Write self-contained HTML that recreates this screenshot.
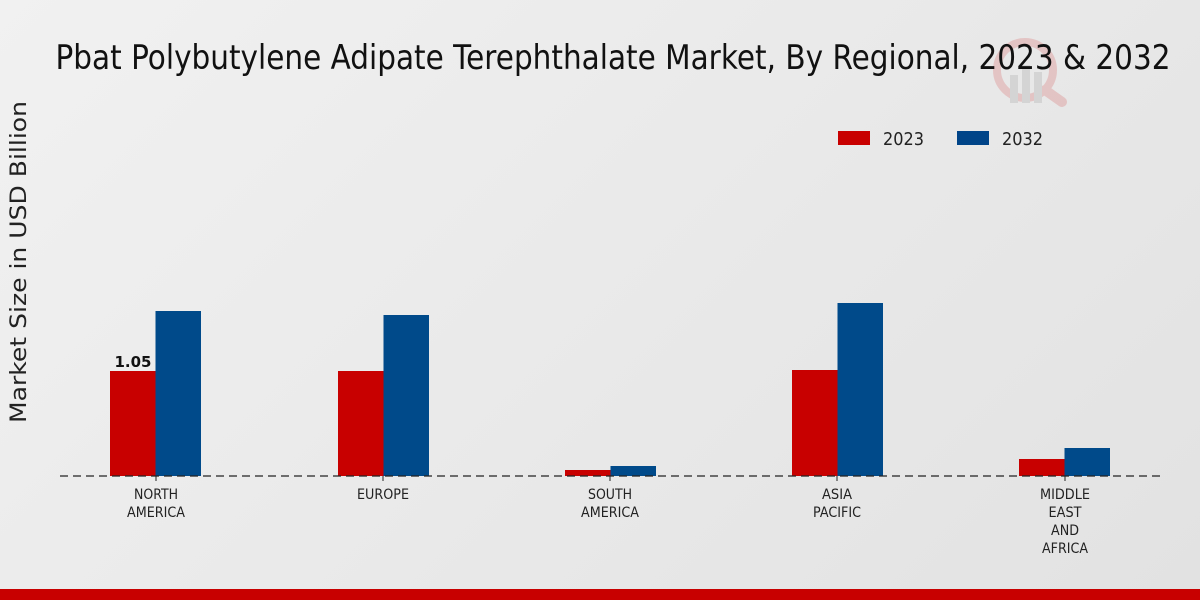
<!DOCTYPE html>
<html><head><style>
html,body{margin:0;padding:0}
body{width:1200px;height:600px;background:linear-gradient(135deg,#f1f1f1,#e2e2e2);overflow:hidden}
svg{display:block}
</style></head><body>
<svg width="1200" height="600" xmlns="http://www.w3.org/2000/svg" font-family="DejaVu Sans, Liberation Sans, sans-serif">
<g opacity="0.15">
<circle cx="1025" cy="70" r="28" fill="none" stroke="#c00" stroke-width="8"/>
<line x1="1045" y1="90" x2="1062" y2="102" stroke="#c00" stroke-width="10" stroke-linecap="round"/>
<rect x="1010" y="75" width="8" height="28" fill="#666"/><rect x="1022" y="65" width="8" height="38" fill="#666"/><rect x="1034" y="72" width="8" height="31" fill="#666"/>
</g>
<text x="613" y="69" font-size="34" text-anchor="middle" textLength="1115" lengthAdjust="spacingAndGlyphs" fill="#111">Pbat Polybutylene Adipate Terephthalate Market, By Regional, 2023 &amp; 2032</text>
<text transform="translate(26,262) rotate(-90)" font-size="22" text-anchor="middle" textLength="322" lengthAdjust="spacingAndGlyphs" fill="#222">Market Size in USD Billion</text>
<rect x="838" y="131" width="32" height="14" fill="#c80000"/>
<text x="883" y="145" font-size="18" fill="#222" textLength="41" lengthAdjust="spacingAndGlyphs">2023</text>
<rect x="957" y="131" width="32" height="14" fill="#004488"/>
<text x="1002" y="145" font-size="18" fill="#222" textLength="41" lengthAdjust="spacingAndGlyphs">2032</text>
<g fill="#c80000">
<rect x="110" y="371" width="45.5" height="105"/>
<rect x="338" y="371" width="45.5" height="105"/>
<rect x="565" y="470" width="45.5" height="6"/>
<rect x="792" y="370" width="45.5" height="106"/>
<rect x="1019" y="459" width="45.5" height="17"/>
</g>
<g fill="#004a8a">
<rect x="155.5" y="311" width="45.5" height="165"/>
<rect x="383.5" y="315" width="45.5" height="161"/>
<rect x="610.5" y="466" width="45.5" height="10"/>
<rect x="837.5" y="303" width="45.5" height="173"/>
<rect x="1064.5" y="448" width="45.5" height="28"/>
</g>
<line x1="60" y1="476" x2="1160" y2="476" stroke="#222" stroke-width="1.2" stroke-dasharray="8,5"/>
<g stroke="#222" stroke-width="1"><line x1="156" y1="476" x2="156" y2="481"/><line x1="383" y1="476" x2="383" y2="481"/><line x1="610" y1="476" x2="610" y2="481"/><line x1="837" y1="476" x2="837" y2="481"/><line x1="1065" y1="476" x2="1065" y2="481"/></g>
<text x="133" y="367" font-size="15" font-weight="bold" text-anchor="middle" fill="#111">1.05</text>
<g font-size="14" text-anchor="middle" fill="#222" lengthAdjust="spacingAndGlyphs">
<text x="156" y="499" textLength="44" lengthAdjust="spacingAndGlyphs">NORTH</text><text x="156" y="517" textLength="58" lengthAdjust="spacingAndGlyphs">AMERICA</text>
<text x="383" y="499" textLength="52" lengthAdjust="spacingAndGlyphs">EUROPE</text>
<text x="610" y="499" textLength="44" lengthAdjust="spacingAndGlyphs">SOUTH</text><text x="610" y="517" textLength="58" lengthAdjust="spacingAndGlyphs">AMERICA</text>
<text x="837" y="499" textLength="30" lengthAdjust="spacingAndGlyphs">ASIA</text><text x="837" y="517" textLength="48" lengthAdjust="spacingAndGlyphs">PACIFIC</text>
<text x="1065" y="499" textLength="50" lengthAdjust="spacingAndGlyphs">MIDDLE</text><text x="1065" y="517" textLength="33" lengthAdjust="spacingAndGlyphs">EAST</text><text x="1065" y="535" textLength="28" lengthAdjust="spacingAndGlyphs">AND</text><text x="1065" y="553" textLength="46" lengthAdjust="spacingAndGlyphs">AFRICA</text>
</g>
<rect x="0" y="589" width="1200" height="11" fill="#c80000"/>
</svg>
</body></html>
